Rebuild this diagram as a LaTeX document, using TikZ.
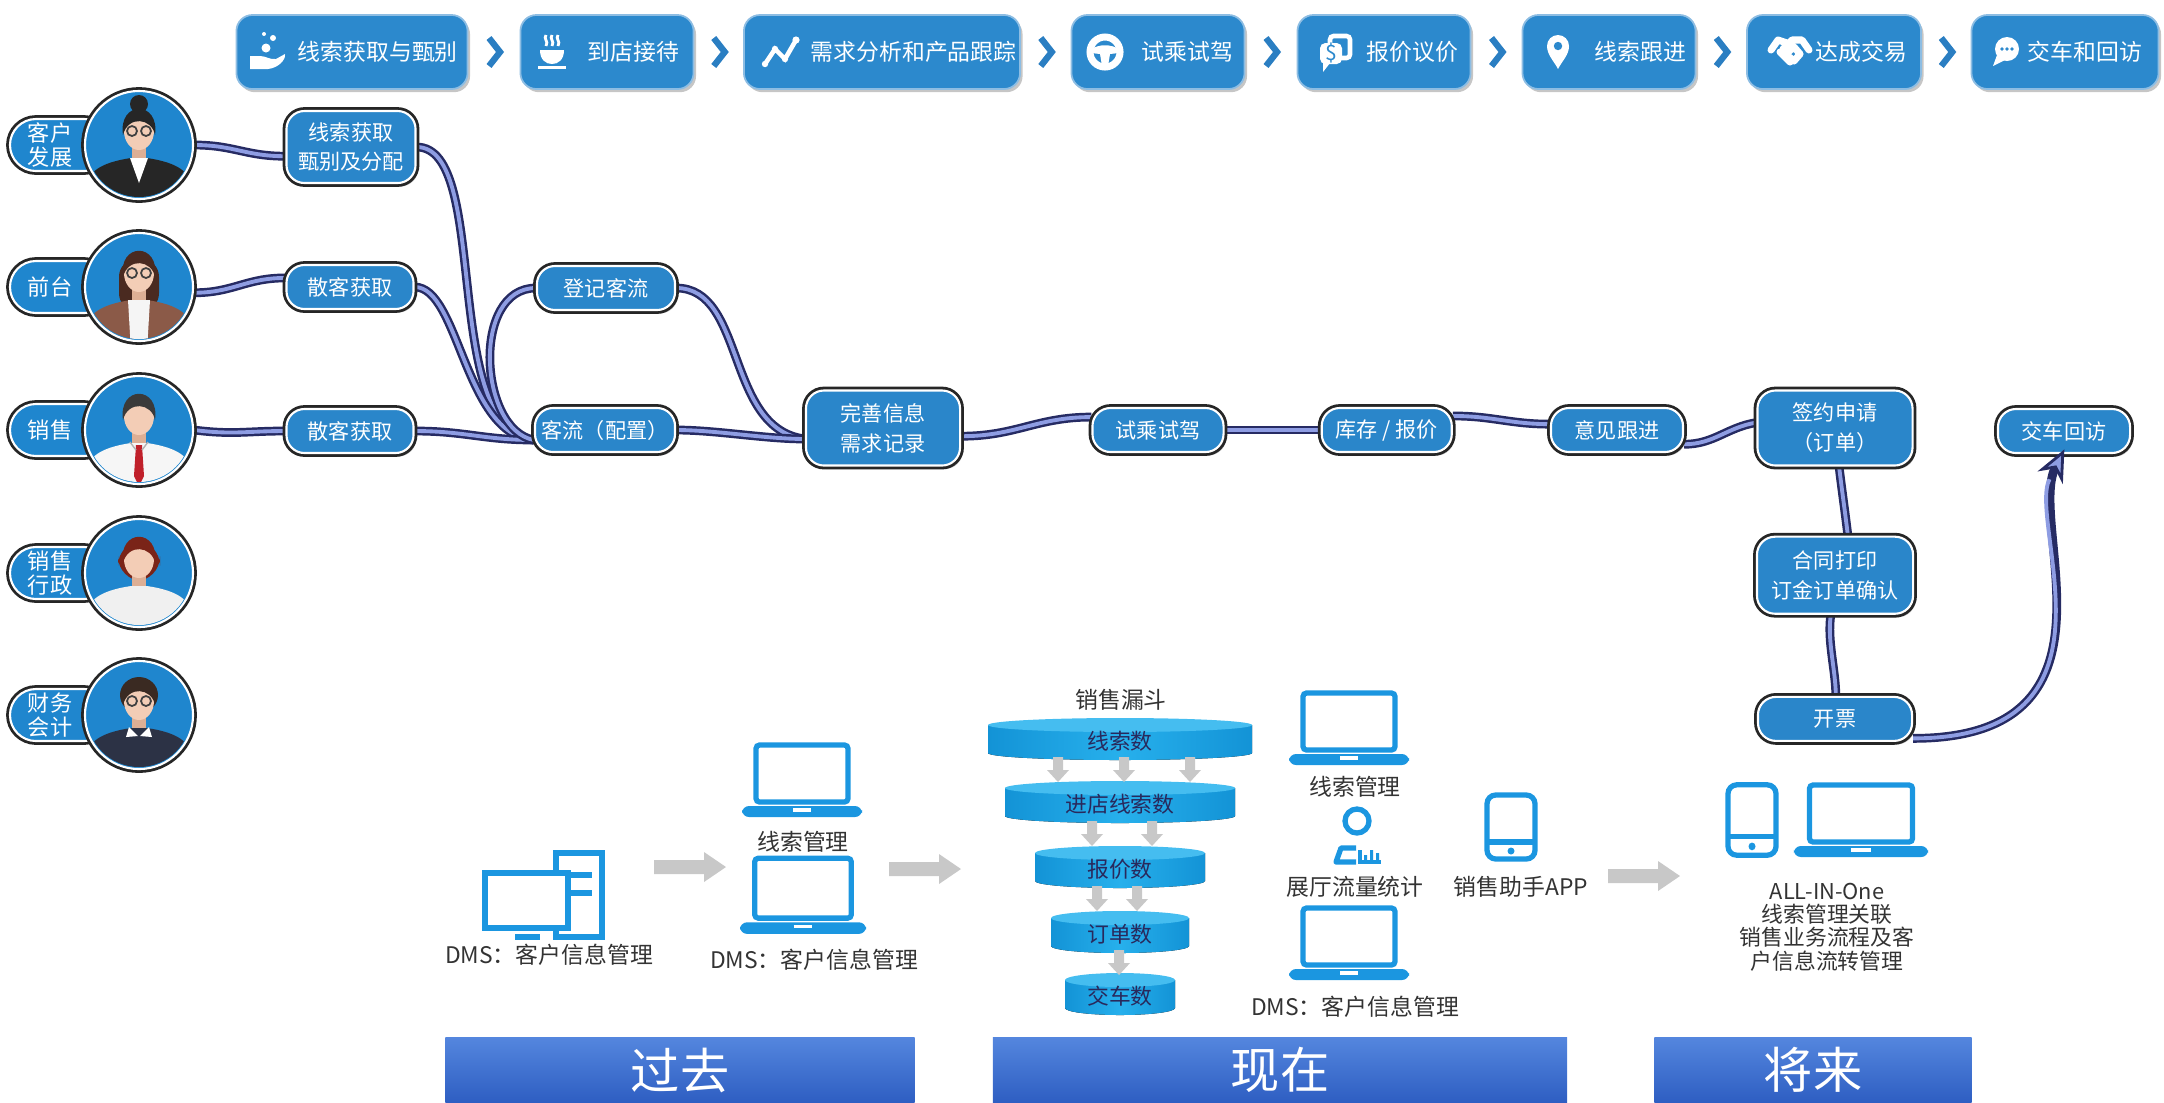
\documentclass[tikz,border=0pt]{standalone}
\usepackage{fontspec}
\setmainfont{Noto Sans CJK SC}
\usetikzlibrary{arrows.meta, positioning, calc, shadows, backgrounds}

\definecolor{stageblue}{HTML}{2C89CD}
\definecolor{stageedge}{HTML}{8DBDE3}
\definecolor{chevblue}{HTML}{2A7EC2}
\definecolor{boxblue}{HTML}{2A86CA}
\definecolor{avblue}{HTML}{1F86CE}
\definecolor{cableout}{HTML}{262B63}
\definecolor{cablein}{HTML}{8E9DE3}
\definecolor{iconblue}{HTML}{1B96E0}
\definecolor{arrowgray}{HTML}{C8C8C8}
\definecolor{diskblue}{HTML}{27B0EC}
\definecolor{diskside}{HTML}{1393D6}
\definecolor{disktop}{HTML}{45BDF0}
\definecolor{barlight}{HTML}{5486DE}
\definecolor{bardark}{HTML}{2E5EC2}
\definecolor{inkgray}{HTML}{333333}
\definecolor{skin}{HTML}{F3CDB6}
\definecolor{skinshade}{HTML}{DDAF95}
\definecolor{hairbrown}{HTML}{4A2A20}
\definecolor{jacketbrown}{HTML}{8B5A48}
\definecolor{hairgray}{HTML}{3A3A3A}
\definecolor{hairred}{HTML}{7A2418}
\definecolor{hairdark}{HTML}{3A2A22}
\definecolor{navy}{HTML}{2C3245}
\definecolor{tiered}{HTML}{C0202A}

% avatar parts, drawn in a scope shifted to the circle centre (1 unit = 1px)
\newcommand{\avbody}[1]{%
  \fill[skinshade] (-7,-4) rectangle (7,20);
  \fill[#1] (-56,64) -- (-51,36) .. controls (-47,22) and (-28,16) .. (-8,13)
    -- (8,13) .. controls (28,16) and (47,22) .. (51,36) -- (56,64) -- cycle;}
\newcommand{\avface}[1]{%
  \fill[skin] (0,-14) ellipse [x radius=15, y radius=19];
  \fill[#1] (-16,-10) .. controls (-21,-45) and (21,-45) .. (16,-10)
    .. controls (13,-27) and (-11,-30) .. cycle;}
\newcommand{\avglasses}{%
  \draw[black!75, line width=0.5pt] (-7,-14) circle[radius=5] (7,-14) circle[radius=5];}

% one disk of the funnel: name, centre x, top y, half width, text
\newcommand{\funneldisk}[5]{%
  \fill[left color=diskside, right color=diskside, middle color=diskblue]
    (#2-#4,#3) -- (#2-#4,#3+28) arc[start angle=180, end angle=0, x radius=#4, y radius=7]
    -- (#2+#4,#3) -- cycle;
  \fill[disktop] (#2,#3) ellipse [x radius=#4, y radius=7];
  \node[disktext] (#1) at (#2,#3+16) {#5};}

\begin{document}
\begin{tikzpicture}[x=0.01cm, y=-0.01cm,
  stage/.style={rectangle, rounded corners=1.6mm, fill=stageblue, draw=stageedge, line width=0.5pt,
                minimum height=0.74cm,
                drop shadow={shadow xshift=0.7pt, shadow yshift=-0.9pt, opacity=0.45}},
  stagetext/.style={anchor=west, inner sep=0pt, text=white, font=\fontsize{6.5}{7}\selectfont},
  chev/.style={draw=chevblue, line width=1.8pt},
  flowbox/.style={rectangle, rounded corners=1.8mm, fill=boxblue, draw=white, line width=0.6pt,
                  drop shadow={shadow xshift=0.8pt, shadow yshift=-1pt, opacity=0.4},
                  preaction={draw=black!85, line width=2.2pt},
                  minimum height=0.44cm, inner sep=1pt, align=center, text=white,
                  font=\fontsize{6}{8.5}\selectfont},
  person/.style={circle, minimum size=1.08cm, fill=avblue, draw=white, line width=0.6pt,
                 preaction={draw=black!85, line width=2.2pt}, inner sep=0pt},
  tag/.style={rectangle, rounded corners=2.6mm, minimum width=1cm, minimum height=0.52cm,
              fill=avblue, draw=white, line width=0.6pt, preaction={draw=black!85, line width=2.2pt},
              text width=0.64cm, align=left, inner sep=0pt, text=white,
              font=\fontsize{6.3}{6.9}\selectfont},
  cable/.style={draw=cablein, line width=1.1pt, preaction={draw=cableout, line width=2.5pt}},
  iconline/.style={draw=iconblue, line width=1.5pt},
  caption/.style={text=inkgray, font=\fontsize{6.5}{7.8}\selectfont, align=center, inner sep=0pt},
  disktext/.style={text=inkgray!80!blue, font=\fontsize{6.2}{7}\selectfont, inner sep=0pt},
  era/.style={rectangle, top color=barlight, bottom color=bardark, minimum height=0.65cm,
              inner sep=0pt, text=white, font=\fontsize{14}{15}\selectfont},
  laptop/.pic={
    \draw[iconline, rounded corners=1pt] (-46,-35) rectangle (46,22);
    \fill[iconblue, rounded corners=2pt] (-60,26) rectangle (60,37);
    \draw[white, line width=1pt] (-9,30) -- (9,30);
  },
  tablet/.pic={
    \draw[iconline, rounded corners=2.5pt] (-24,-32) rectangle (24,32);
    \draw[iconline] (-24,15) -- (24,15);
    \fill[iconblue] (0,24) circle[radius=3.5];
  },
  grayarrow/.pic={
    \fill[arrowgray] (-36,-7) -- (14,-7) -- (14,-15) -- (36,0) -- (14,15) -- (14,7) -- (-36,7) -- cycle;
  },
  droparrow/.pic={
    \fill[arrowgray] (-5,-13) -- (5,-13) -- (5,0) -- (11,0) -- (0,12) -- (-11,0) -- (-5,0) -- cycle;
  }
]
\useasboundingbox (0,0) rectangle (2164,1102);

% Stage bar
\node[stage, minimum width=2.31cm] (s1) at (352,52) {};
\node[stage, minimum width=1.73cm] (s2) at (607,52) {};
\node[stage, minimum width=2.76cm] (s3) at (882,52) {};
\node[stage, minimum width=1.73cm] (s4) at (1158,52) {};
\node[stage, minimum width=1.73cm] (s5) at (1384,52) {};
\node[stage, minimum width=1.73cm] (s6) at (1609,52) {};
\node[stage, minimum width=1.74cm] (s7) at (1834,52) {};
\node[stage, minimum width=1.87cm] (s8) at (2065,52) {};
\node[stagetext] (t1) at (297,52) {线索获取与甄别};
\node[stagetext] (t2) at (587,52) {到店接待};
\node[stagetext] (t3) at (810,52) {需求分析和产品跟踪};
\node[stagetext] (t4) at (1141,52) {试乘试驾};
\node[stagetext] (t5) at (1366,52) {报价议价};
\node[stagetext] (t6) at (1594,52) {线索跟进};
\node[stagetext] (t7) at (1815,52) {达成交易};
\node[stagetext] (t8) at (2027,52) {交车和回访};
\draw[chev] ($(s1.east)!0.5!(s2.west)+(-5,-14)$) -- ++(11,14) -- ++(-11,14);
\draw[chev] ($(s2.east)!0.5!(s3.west)+(-5,-14)$) -- ++(11,14) -- ++(-11,14);
\draw[chev] ($(s3.east)!0.5!(s4.west)+(-5,-14)$) -- ++(11,14) -- ++(-11,14);
\draw[chev] ($(s4.east)!0.5!(s5.west)+(-5,-14)$) -- ++(11,14) -- ++(-11,14);
\draw[chev] ($(s5.east)!0.5!(s6.west)+(-5,-14)$) -- ++(11,14) -- ++(-11,14);
\draw[chev] ($(s6.east)!0.5!(s7.west)+(-5,-14)$) -- ++(11,14) -- ++(-11,14);
\draw[chev] ($(s7.east)!0.5!(s8.west)+(-5,-14)$) -- ++(11,14) -- ++(-11,14);

% Stage icons
\begin{scope}[shift={(268,52)}]
  \fill[white] (-18,4) -- (-8,4) .. controls (-2,4) and (2,8) .. (8,7) -- (17,2)
    .. controls (18,8) and (10,16) .. (0,17) -- (-18,17) -- cycle;
  \fill[white] (-2,-4) circle[radius=4.5] (5,-14) circle[radius=3] (-4,-18) circle[radius=2];
\end{scope}
\begin{scope}[shift={(552,52)}]
  \draw[white, line width=0.8pt] (-6,-17) .. controls (-9,-13) and (-3,-11) .. (-6,-6)
    (0,-17) .. controls (-3,-13) and (3,-11) .. (0,-6)
    (6,-17) .. controls (3,-13) and (9,-11) .. (6,-6);
  \fill[white] (-12,-2) -- (12,-2) .. controls (12,8) and (6,12) .. (0,12)
    .. controls (-6,12) and (-12,8) .. cycle;
  \fill[white] (-14,14) rectangle (14,17);
\end{scope}
\begin{scope}[shift={(781,52)}]
  \draw[white, line width=1.3pt] (-16,12) -- (-6,-3) -- (4,7) -- (15,-12);
  \fill[white] (-16,12) circle[radius=3.2] (-6,-3) circle[radius=3.2] (4,7) circle[radius=3.2]
    (15,-12) circle[radius=3.6];
\end{scope}
\begin{scope}[shift={(1105,52)}]
  \draw[white, line width=2pt] (0,0) circle[radius=15];
  \fill[white] (-14,-3) .. controls (-5,-8) and (5,-8) .. (14,-3) -- (14,1) -- (5,2) -- (3,14)
    -- (-3,14) -- (-5,2) -- (-14,1) -- cycle;
\end{scope}
\begin{scope}[shift={(1335,52)}]
  \draw[white, line width=1.3pt, rounded corners=1pt] (-5,-16) rectangle (15,6);
  \fill[white, rounded corners=1.5pt] (-15,-9) rectangle (7,12);
  \fill[white] (-12,11) -- (-5,11) -- (-12,20) -- cycle;
  \node[text=stageblue, font=\fontsize{6}{6}\selectfont, inner sep=0pt] (cash) at (-4,1) {\$};
\end{scope}
\begin{scope}[shift={(1558,52)}]
  \fill[white] (0,17) .. controls (-4,9) and (-11,3) .. (-11,-6)
    arc[start angle=180, end angle=360, radius=11] .. controls (11,3) and (4,9) .. (0,17) -- cycle;
  \fill[stageblue] (0,-6) circle[radius=4.2];
\end{scope}
\begin{scope}[shift={(1790,52)}]
  \draw[white, line width=2pt, line join=round, line cap=round]
    (-19,-2) -- (-12,-12) -- (-3,-9)
    (19,-2) -- (12,-12) -- (2,-12) -- (-7,-3) -- (-3,1) -- (4,-5) -- (10,2) -- (4,9) -- (-2,4)
    (-10,0) -- (-4,6) -- (0,10);
\end{scope}
\begin{scope}[shift={(2008,52)}]
  \fill[white] (-1,-3) circle[radius=12];
  \fill[white] (-11,3) -- (-15,14) -- (-3,8) -- cycle;
  \fill[stageblue] (-6,-3) circle[radius=1.8] (-1,-3) circle[radius=1.8] (4,-3) circle[radius=1.8];
\end{scope}

% Roles
\node[tag] (g1) at (60,145) {客户\\发展};
\node[tag] (g2) at (60,287) {前台};
\node[tag] (g3) at (60,430) {销售};
\node[tag] (g4) at (60,573) {销售\\行政};
\node[tag] (g5) at (60,715) {财务\\会计};
\node[person] (p1) at (139,145) {};
\node[person] (p2) at (139,287) {};
\node[person] (p3) at (139,430) {};
\node[person] (p4) at (139,573) {};
\node[person] (p5) at (139,715) {};

\begin{scope}[shift={(p1.center)}]
  \clip (0,0) circle[radius=52];
  \fill[black!85] (0,-41) circle[radius=9];
  \avbody{black!85}
  \fill[white] (-9,13) -- (9,13) -- (0,38) -- cycle;
  \avface{black!85}
  \avglasses
\end{scope}
\begin{scope}[shift={(p2.center)}]
  \clip (0,0) circle[radius=52];
  \fill[hairbrown, rounded corners=5pt] (-20,-28) rectangle (20,24);
  \avbody{jacketbrown}
  \fill[white!92!gray] (-11,13) -- (11,13) -- (8,64) -- (-8,64) -- cycle;
  \avface{hairbrown}
  \avglasses
\end{scope}
\begin{scope}[shift={(p3.center)}]
  \clip (0,0) circle[radius=52];
  \avbody{white!93!gray}
  \fill[tiered] (-3,15) -- (3,15) -- (5,46) -- (0,56) -- (-5,46) -- cycle;
  \draw[gray!60, line width=0.4pt] (-9,12) -- (-3,20) (9,12) -- (3,20);
  \avface{hairgray}
\end{scope}
\begin{scope}[shift={(p4.center)}]
  \clip (0,0) circle[radius=52];
  \fill[hairred, rounded corners=7pt] (-21,-32) rectangle (21,8);
  \avbody{white!88!gray}
  \avface{hairred}
\end{scope}
\begin{scope}[shift={(p5.center)}]
  \clip (0,0) circle[radius=52];
  \fill[hairdark] (0,-20) ellipse[x radius=19, y radius=18];
  \avbody{navy}
  \fill[white] (-10,12) -- (-1,21) -- (-13,22) -- cycle (10,12) -- (1,21) -- (13,22) -- cycle;
  \avface{hairdark}
  \avglasses
\end{scope}

% Sales flow
\node[flowbox, minimum width=1.29cm, minimum height=0.72cm] (lead) at (351,147) {线索获取\\甄别及分配};
\node[flowbox, minimum width=1.27cm] (walk1) at (350,287) {散客获取};
\node[flowbox, minimum width=1.27cm] (walk2) at (350,431) {散客获取};
\node[flowbox, minimum width=1.38cm] (reg) at (606,288) {登记客流};
\node[flowbox, minimum width=1.40cm] (flow) at (605,430) {客流（配置）};
\node[flowbox, minimum width=1.54cm, minimum height=0.75cm] (info) at (883,428) {完善信息\\需求记录};
\node[flowbox, minimum width=1.31cm] (drive) at (1158,430) {试乘试驾};
\node[flowbox, minimum width=1.30cm, right=0.96cm of drive] (stock) {库存 / 报价};
\node[flowbox, minimum width=1.32cm, right=0.97cm of stock] (follow) {意见跟进};
\node[flowbox, minimum width=1.55cm, minimum height=0.75cm] (sign) at (1835,428) {签约申请\\（订单）};
\node[flowbox, minimum width=1.32cm] (deliver) at (2064,431) {交车回访};
\node[flowbox, minimum width=1.56cm, minimum height=0.77cm, below=0.69cm of sign] (print) {合同打印\\订金订单确认};
\node[flowbox, minimum width=1.54cm, below=0.81cm of print] (inv) {开票};

\begin{scope}[on background layer]
\draw[cable] (p1.east) .. controls +(40,0) and +(-40,0) .. (lead.-172);
\draw[cable] (p2.-6) .. controls +(40,0) and +(-40,0) .. (walk1.172);
\draw[cable] (p3.east) .. controls +(40,5) and +(-40,0) .. (walk2.west);
\draw[cable] (lead.east) .. controls +(75,0) and +(-95,-10) .. (flow.-172);
\draw[cable] (walk1.east) .. controls +(45,0) and +(-70,-5) .. (flow.-172);
\draw[cable] (walk2.east) .. controls +(50,0) and +(-50,0) .. (flow.-172);
\draw[cable] (reg.west) .. controls +(-65,0) and +(-55,-10) .. (flow.-172);
\draw[cable] (reg.east) .. controls +(70,0) and +(-80,-10) .. (info.-172);
\draw[cable] (flow.east) .. controls +(40,0) and +(-40,0) .. (info.-172);
\draw[cable] (info.-6) .. controls +(55,0) and +(-55,0) .. (drive.169);
\draw[cable] (drive.east) -- (stock.west);
\draw[cable] (stock.12) .. controls +(40,0) and +(-40,0) .. (follow.175);
\draw[cable] (follow.-12) .. controls +(30,0) and +(-30,5) .. (sign.176);
\draw[cable] (sign.-84) .. controls +(3,25) and +(-3,-25) .. (print.72);
\draw[cable] (print.-96) .. controls +(-4,25) and +(0,-25) .. (inv.88);
\end{scope}
\draw[cableout, line width=2.5pt, shorten >=-1.5pt,
      -{Stealth[length=9pt, width=8pt, line width=0.8pt, fill=cablein]}]
  (inv.-14) .. controls +(220,0) and +(-35,70) .. (deliver.-95);
\draw[cablein, line width=1.1pt, shorten >=8pt]
  (inv.-14) .. controls +(220,0) and +(-35,70) .. (deliver.-95);

% Past
\draw[iconline] (556,853) rectangle (602,937);
\draw[iconline] (568,875) -- (592,875) (568,893) -- (592,893);
\filldraw[iconline, fill=white] (485,873) rectangle (568,928);
\fill[iconblue] (515,934) rectangle (540,940);
\node[caption] (cap1) at (549,955) {DMS：客户信息管理};
\pic (ga1) at (690,867) {grayarrow};
\pic (lp1) at (802,780) {laptop};
\node[caption] (cap2) at (803,842) {线索管理};
\pic[scale=1.05] (lp2) at (803,895) {laptop};
\node[caption] (cap3) at (814,960) {DMS：客户信息管理};
\pic (ga2) at (925,869) {grayarrow};

% Now
\node[caption] (cap4) at (1121,700) {销售漏斗};
\funneldisk{d1}{1120}{725}{132}{线索数}
\funneldisk{d2}{1120}{788}{115}{进店线索数}
\funneldisk{d3}{1120}{853}{85}{报价数}
\funneldisk{d4}{1120}{918}{69}{订单数}
\funneldisk{d5}{1120}{980}{55}{交车数}
\pic (da1) at (1058,770) {droparrow};
\pic (da2) at (1124,770) {droparrow};
\pic (da3) at (1190,770) {droparrow};
\pic (da4) at (1092,834) {droparrow};
\pic (da5) at (1152,834) {droparrow};
\pic (da6) at (1097,899) {droparrow};
\pic (da7) at (1137,899) {droparrow};
\pic (da8) at (1119,963) {droparrow};

\pic (lp3) at (1349,728) {laptop};
\node[caption] (cap5) at (1355,787) {线索管理};
\draw[iconline] (1357,821) circle[radius=12];
\draw[iconline, line join=round] (1356,848) -- (1341,848) -- (1336,862) -- (1356,862);
\draw[iconblue, line width=1pt] (1360,850) -- (1360,862) -- (1381,862);
\fill[iconblue] (1364,855) rectangle (1367,862) (1370,850) rectangle (1373,862) (1376,853) rectangle (1379,862);
\node[caption] (cap6) at (1355,887) {展厅流量统计};
\pic (lp4) at (1349,943) {laptop};
\node[caption] (cap7) at (1355,1007) {DMS：客户信息管理};
\pic (tb1) at (1511,827) {tablet};
\node[caption] (cap8) at (1521,887) {销售助手APP};
\pic (ga3) at (1644,876) {grayarrow};

% Future
\pic[yscale=1.1] (tb2) at (1752,820) {tablet};
\pic[xscale=1.12] (lp5) at (1861,820) {laptop};
\node[caption, font=\fontsize{6.2}{6.6}\selectfont] (cap9) at (1827,927)
  {ALL-IN-One\\线索管理关联\\销售业务流程及客\\户信息流转管理};

% Eras
\node[era, minimum width=4.69cm] (past) at (680,1070) {过去};
\node[era, minimum width=5.74cm] (now) at (1280,1070) {现在};
\node[era, minimum width=3.17cm] (future) at (1813,1070) {将来};
\end{tikzpicture}
\end{document}
